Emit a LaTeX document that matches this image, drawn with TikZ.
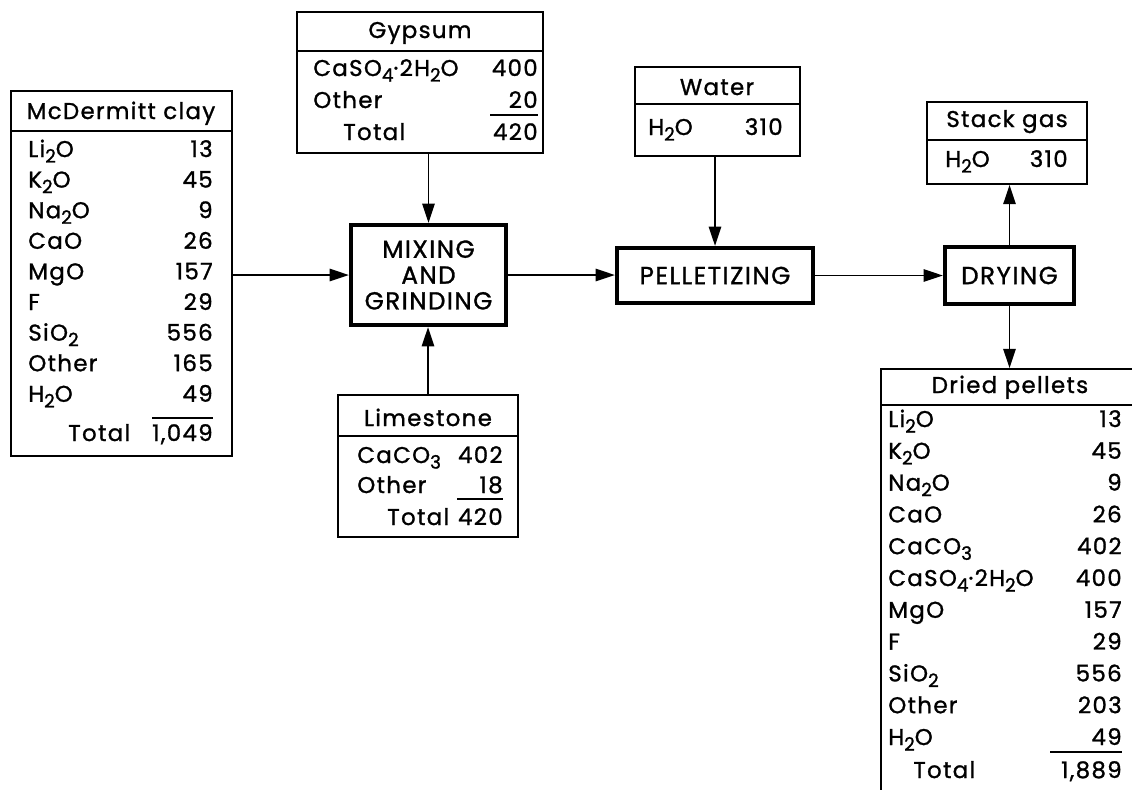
\documentclass[tikz,border=0pt]{standalone}
\usepackage{fontspec}
\setmainfont[LetterSpace=6,FakeBold=1.2]{Poppins}
\usepackage{tikz}
\usetikzlibrary{arrows.meta,positioning,fit}
\newcommand{\lo}[1]{\raisebox{-0.45ex}{\fontsize{10.5}{11}\selectfont #1}}

\begin{document}
\begin{tikzpicture}[x=0.02cm,y=-0.02cm,
  tb/.style={draw,line width=1pt,inner sep=0pt},
  pr/.style={draw,line width=2.4pt,inner sep=0pt},
  prt/.style={inner sep=0pt,align=center,font=\fontsize{14}{14.7}\selectfont},
  lb/.style={anchor=base west,inner sep=0pt,font=\fontsize{13}{15}\selectfont},
  vl/.style={anchor=base east,inner sep=0pt,font=\fontsize{13}{15}\selectfont},
  ti/.style={anchor=base,inner sep=0pt,font=\fontsize{13}{15}\selectfont},
  ar/.style={-{Triangle[length=11pt,width=7pt]},line width=1.1pt}]
 \useasboundingbox (0,0) rectangle (1132,789);
 \clip (0,0) rectangle (1132,789);
 % process boxes
 \node[pr,fit={(351,225)(506,325)}] (mix) {};
 \node[prt] (mixt) at (mix.center) {MIXING\\AND\\GRINDING};
 \node[pr,fit={(617,248)(813,303)}] (pel) {};
 \node[prt] (pelt) at (pel.center) {PELLETIZING};
 \node[pr,fit={(945,247)(1074,304)}] (dry) {};
 \node[prt] (dryt) at (dry.center) {DRYING};
 % McDermitt clay
 \node[tb,fit={(11,91)(232,456)}] (clay) {};
 \draw[line width=1pt] (11,131) -- (232,131);
 \node[ti] (clayt) at (121,119) {McDermitt clay};
 \foreach \t/\v [count=\i from 0] in {
   Li\lo{2}O/13, K\lo{2}O/45, Na\lo{2}O/9, CaO/26, MgO/157,
   F/29, SiO\lo{2}/556, Other/165, H\lo{2}O/49} {
   \node[lb] (cl\i) at (28,{157+30.6*\i}) {\t};
   \node[vl] (cv\i) at (213,{157+30.6*\i}) {\v};
 }
 \draw[line width=1pt] (152,418) -- (213,418);
 \node[lb] (cltot) at (68,441) {Total};
 \node[vl] (cvtot) at (213,441) {1,049};
 % Gypsum
 \node[tb,fit={(297,12)(543,153)}] (gyp) {};
 \draw[line width=1pt] (297,51) -- (543,51);
 \node[ti] (gypt) at (420,38) {Gypsum};
 \node[lb] (gl0) at (313,76) {CaSO\lo{4}·2H\lo{2}O};
 \node[vl] (gv0) at (538,76) {400};
 \node[lb] (gl1) at (313,108) {Other};
 \node[vl] (gv1) at (538,108) {20};
 \draw[line width=1pt] (490,115) -- (538,115);
 \node[lb] (gltot) at (343,140) {Total};
 \node[vl] (gvtot) at (538,140) {420};
 % Limestone
 \node[tb,fit={(338,395)(518,537)}] (lim) {};
 \draw[line width=1pt] (338,436) -- (518,436);
 \node[ti] (limt) at (428,426) {Limestone};
 \node[lb] (ll0) at (357,463) {CaCO\lo{3}};
 \node[vl] (lv0) at (503,463) {402};
 \node[lb] (ll1) at (357,493) {Other};
 \node[vl] (lv1) at (503,493) {18};
 \draw[line width=1pt] (457,499) -- (503,499);
 \node[lb] (lltot) at (387,525) {Total};
 \node[vl] (lvtot) at (503,525) {420};
 % Water
 \node[tb,fit={(635,67)(800,156)}] (wat) {};
 \draw[line width=1pt] (635,104) -- (800,104);
 \node[ti] (watt) at (717,95) {Water};
 \node[lb] (wl0) at (648,135) {H\lo{2}O};
 \node[vl] (wv0) at (783,135) {310};
 % Stack gas
 \node[tb,fit={(927,102)(1087,184)}] (stk) {};
 \draw[line width=1pt] (927,140) -- (1087,140);
 \node[ti] (stkt) at (1007,127) {Stack gas};
 \node[lb] (sl0) at (945,167) {H\lo{2}O};
 \node[vl] (sv0) at (1068,167) {310};
 % Dried pellets
 \node[tb,fit={(881,369)(1140,800)}] (dp) {};
 \draw[line width=1pt] (881,405) -- (1140,405);
 \node[ti] (dpt) at (1010,393) {Dried pellets};
 \foreach \t/\v [count=\i from 0] in {
   Li\lo{2}O/13, K\lo{2}O/45, Na\lo{2}O/9, CaO/26, CaCO\lo{3}/402,
   CaSO\lo{4}·2H\lo{2}O/400, MgO/157, F/29, SiO\lo{2}/556, Other/203, H\lo{2}O/49} {
   \node[lb] (dl\i) at (888,{427+31.8*\i}) {\t};
   \node[vl] (dv\i) at (1122,{427+31.8*\i}) {\v};
 }
 \draw[line width=1pt] (1050,752) -- (1122,752);
 \node[lb] (dltot) at (913,778) {Total};
 \node[vl] (dvtot) at (1122,778) {1,889};
 % flows
 \draw[ar] (clay.east |- mix.west) -- (mix.west);
 \draw[ar] (mix.north |- gyp.south) -- (mix.north);
 \draw[ar] (lim.north) -- (lim.north |- mix.south);
 \draw[ar] (mix.east) -- (mix.east -| pel.west);
 \draw[ar] (pel.north |- wat.south) -- (pel.north);
 \draw[ar] (pel.east) -- (pel.east -| dry.west);
 \draw[ar] (dry.north) -- (dry.north |- stk.south);
 \draw[ar] (dry.south) -- (dry.south |- dp.north);
\end{tikzpicture}
\end{document}
